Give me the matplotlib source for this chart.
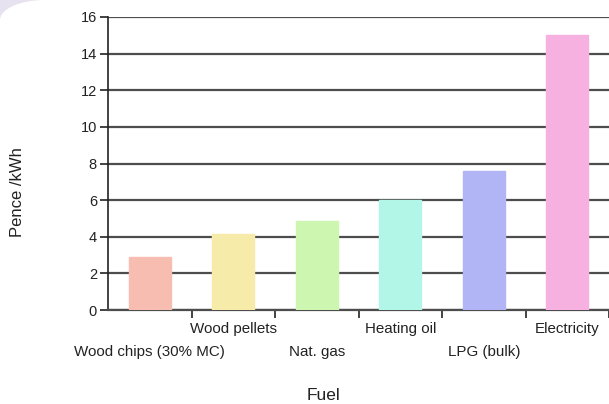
import matplotlib.pyplot as plt
from matplotlib.patches import Ellipse, Rectangle
from matplotlib.transforms import blended_transform_factory

# Fuel categories and cost per kWh
fuels = ['Wood chips (30% MC)', 'Wood pellets', 'Nat. gas', 'Heating oil', 'LPG (bulk)', 'Electricity']
pence_per_kwh = [2.9, 4.15, 4.85, 6.0, 7.6, 15.0]
colors = ['#f8bdb1', '#f6eba9', '#cdf6b1', '#b1f6e7', '#b1b5f6', '#f6b1e1']
y_ticks = [0, 2, 4, 6, 8, 10, 12, 14, 16]

plt.rcParams['font.family'] = ['Liberation Sans', 'DejaVu Sans']

fig = plt.figure(figsize=(6.09, 4.04), dpi=100)

# rounded lavender corner top-left (screenshot frame)
corner = fig.add_axes([0, 0, 1, 1], zorder=-1)
corner.set_xlim(0, 609)
corner.set_ylim(404, 0)
corner.axis('off')
corner.add_patch(Rectangle((0, 0), 45, 20, color='#e7e2ef', lw=0))
corner.add_patch(Ellipse((45, 20), 90, 40, color='white', lw=0))
corner.add_patch(Rectangle((45, 0), 600, 404, color='white', lw=0))
corner.add_patch(Rectangle((0, 20), 609, 404, color='white', lw=0))

ax = fig.add_axes([108 / 609, 1 - 310 / 404, 1 - 108 / 609, (310 - 17) / 404])
ax.patch.set_alpha(0)

x = range(len(fuels))
ax.bar(x, pence_per_kwh, width=0.5, color=colors, edgecolor=colors, zorder=3)

ax.set_ylim(0, 16)
ax.set_xlim(-0.5, len(fuels) - 0.5)
ax.set_yticks(y_ticks)
ax.yaxis.grid(True, color='#4d4d4d', linewidth=1.6, zorder=1)
ax.set_axisbelow(True)

for s in ['top', 'right']:
    ax.spines[s].set_visible(False)
ax.spines['left'].set_color('#222222')
ax.spines['left'].set_linewidth(1.2)
ax.spines['bottom'].set_color('#4d4d4d')
ax.spines['bottom'].set_linewidth(1.6)

ax.set_xticks([i + 0.5 for i in x])
ax.set_xticklabels([])
ax.tick_params(axis='x', length=6, width=1.2, color='#222222')
ax.tick_params(axis='y', length=6, width=1.2, color='#222222', labelsize=10.5, labelcolor='#222222', pad=2)

# staggered category labels
trans = blended_transform_factory(ax.transData, fig.transFigure)
for i, name in enumerate(fuels):
    ypix = 352 if i % 2 == 0 else 329
    ax.text(i, 1 - ypix / 404, name, transform=trans, ha='center', va='center',
            fontsize=10.9, color='#222222')

fig.text(18 / 609, 1 - 192 / 404, 'Pence /kWh', rotation=90, ha='center', va='center',
         fontsize=12, color='#222222')
fig.text(323 / 609, 1 - 396 / 404, 'Fuel', ha='center', va='center',
         fontsize=12.5, color='#222222')

fig.savefig('out.png', dpi=100)
